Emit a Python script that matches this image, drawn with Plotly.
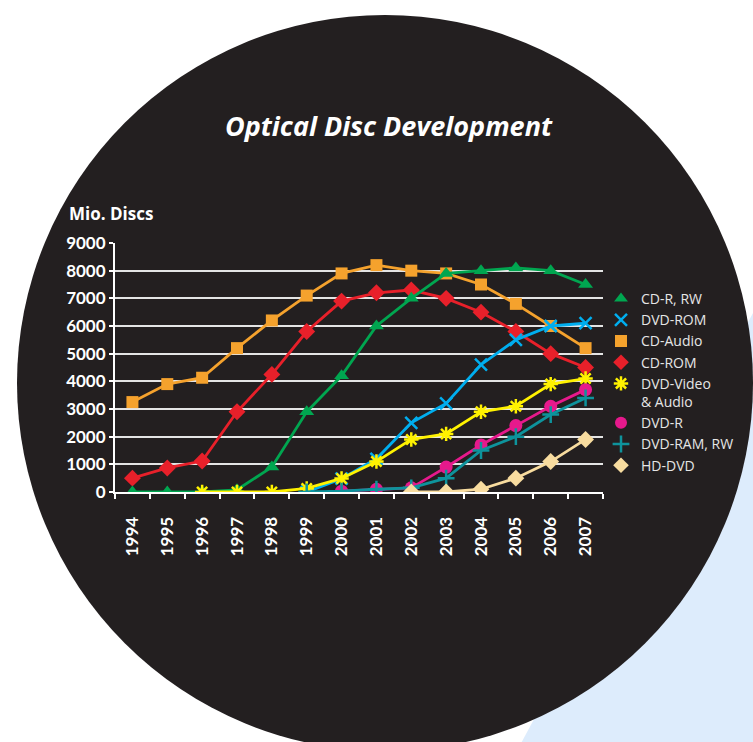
import plotly.graph_objects as go

# ---------------- data ----------------
years = ["1994", "1995", "1996", "1997", "1998", "1999", "2000",
         "2001", "2002", "2003", "2004", "2005", "2006", "2007"]

cd_r_rw = [0, 0, 0, 80, 900, 2900, 4200, 6000, 7000, 7900, 8000, 8100, 8000, 7500]
dvd_rom = [None, None, None, None, None, 0, 480, 1200, 2500, 3200, 4600, 5500, 6000, 6100]
cd_audio = [3250, 3900, 4130, 5200, 6200, 7100, 7900, 8200, 8000, 7900, 7500, 6800, 6000, 5200]
cd_rom = [500, 870, 1120, 2900, 4250, 5800, 6900, 7200, 7300, 7000, 6500, 5800, 5000, 4500]
dvd_video = [None, None, 0, 0, 0, 130, 490, 1100, 1900, 2100, 2900, 3100, 3900, 4100]
dvd_r = [None, None, None, None, None, None, 30, 100, 150, 900, 1700, 2400, 3100, 3700]
dvd_ram_rw = [None, None, None, None, None, 0, 30, 100, 150, 500, 1500, 2000, 2800, 3400]
hd_dvd = [None, None, None, None, None, None, None, None, 0, 0, 100, 500, 1100, 1900]

y_ticks = [0, 1000, 2000, 3000, 4000, 5000, 6000, 7000, 8000, 9000]

# ---------------- layout geometry (pixels) ----------------
W, H = 753, 742
L, R, T, B = 115, 603, 243, 492


def px(x):
    return (x - L) / (R - L)


def py(y):
    return (B - y) / (B - T)


FONT = "Lato"
BG_DARK = "#231F20"

series = [
    # name, data, color, symbol, line-symbol?, size
    ("CD-Audio", cd_audio, "#F5A22D", "square", False, 12),
    ("CD-ROM", cd_rom, "#E8202A", "diamond", False, 13),
    ("CD-R, RW", cd_r_rw, "#00A650", "triangle-up", False, 13),
    ("DVD-ROM", dvd_rom, "#00AEEF", "x-thin", True, 12),
    ("DVD-Video<br>& Audio", dvd_video, "#FFF200", "asterisk", True, 12),
    ("DVD-R", dvd_r, "#E6198C", "circle", False, 13),
    ("DVD-RAM, RW", dvd_ram_rw, "#0E939C", "cross-thin", True, 12),
    ("HD-DVD", hd_dvd, "#F8DC9F", "diamond", False, 13),
]
legend_order = ["CD-R, RW", "DVD-ROM", "CD-Audio", "CD-ROM",
                "DVD-Video<br>& Audio", "DVD-R", "DVD-RAM, RW", "HD-DVD"]

fig = go.Figure()


def marker_of(color, symbol, is_line, size):
    if is_line:
        return dict(symbol=symbol, size=size, color=color,
                    line=dict(color=color, width=2.5))
    return dict(symbol=symbol, size=size, color=color,
                line=dict(color=color, width=0))


for name, data, color, symbol, is_line, size in series:
    fig.add_trace(go.Scatter(
        x=years, y=data, mode="lines+markers", name=name,
        line=dict(color=color, width=2.8),
        marker=marker_of(color, symbol, is_line, size),
        showlegend=False, connectgaps=False,
    ))

lookup = {s[0]: s for s in series}
for rank, nm in enumerate(legend_order):
    name, data, color, symbol, is_line, size = lookup[nm]
    fig.add_trace(go.Scatter(
        x=[None], y=[None], mode="markers", name=name,
        marker=marker_of(color, symbol, is_line, min(size, 12)),
        showlegend=True, legendrank=rank + 1,
    ))

# background disc and light-blue panel
cx, cy, r = 385, 383, 368
shapes = [
    dict(type="path", xref="paper", yref="paper", layer="below",
         path=(f"M {px(512)} {py(760)} L {px(760)} {py(300)} "
               f"L {px(760)} {py(760)} Z"),
         fillcolor="#DDECFC", line=dict(width=0)),
    dict(type="circle", xref="paper", yref="paper", layer="below",
         x0=px(cx - r), x1=px(cx + r), y0=py(cy + r), y1=py(cy - r),
         fillcolor=BG_DARK, line=dict(width=0)),
]

fig.update_layout(
    width=W, height=H,
    margin=dict(l=L, r=W - R, t=T, b=H - B, pad=0),
    paper_bgcolor="white",
    plot_bgcolor="rgba(0,0,0,0)",
    shapes=shapes,
    showlegend=True,
    legend=dict(
        x=px(601), y=py(283), xanchor="left", yanchor="top",
        bgcolor="rgba(0,0,0,0)", borderwidth=0,
        font=dict(family="Open Sans", size=14, color="#E6E6E6"),
        valign="top", itemsizing="trace",
    ),
    annotations=[
        dict(text="Optical Disc Development", xref="paper", yref="paper",
             x=px(389), y=py(126), xanchor="center", yanchor="middle",
             showarrow=False,
             font=dict(family="Open Sans", size=27, color="white",
                       weight="bold", style="italic")),
        dict(text="Mio. Discs", xref="paper", yref="paper",
             x=px(67), y=py(213), xanchor="left", yanchor="middle",
             showarrow=False,
             font=dict(family="Open Sans", size=17, color="white", weight="bold")),
    ],
)

fig.update_xaxes(
    type="category", categoryorder="array", categoryarray=years,
    range=[-0.5, len(years) - 0.5],
    showgrid=False, zeroline=False,
    showline=True, linecolor="white", linewidth=2,
    ticks="outside", tickson="boundaries", ticklen=5, tickwidth=1.5,
    tickcolor="white",
    tickangle=-90, ticklabelstandoff=16,
    tickfont=dict(family=FONT, size=17, color="white", weight="bold"),
)
fig.update_yaxes(
    range=[0, 9000], tickvals=y_ticks,
    showgrid=True, gridcolor="#E4E4E4", gridwidth=2,
    zeroline=False,
    showline=True, linecolor="white", linewidth=2,
    ticks="outside", ticklen=4, tickwidth=1.5, tickcolor="white",
    tickfont=dict(family=FONT, size=17, color="white", weight="bold"),
)

fig.write_html("out.html")
